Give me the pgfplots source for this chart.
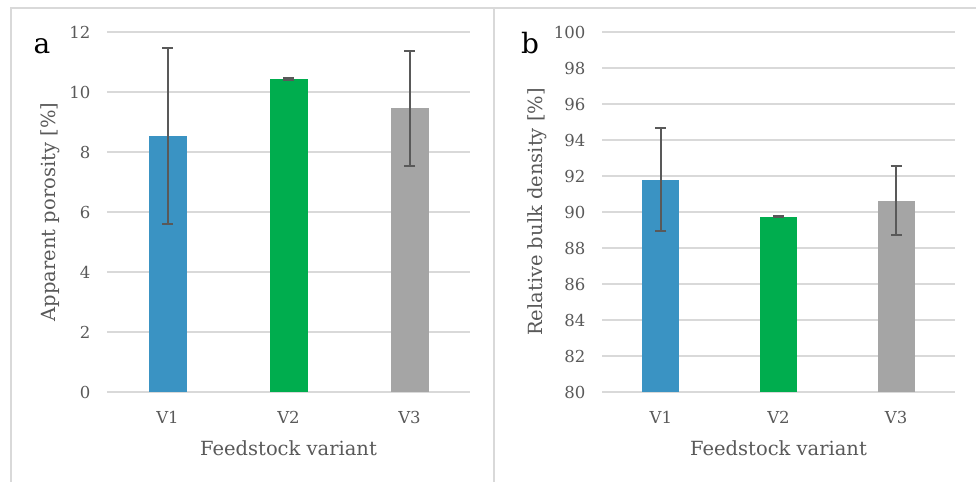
\documentclass[border=0pt]{standalone}
\usepackage{pgfplots}
\pgfplotsset{compat=1.18}
\usepackage{fontspec}
\setmainfont{DejaVu Serif}
\definecolor{cblue}{HTML}{3A93C3}
\definecolor{cgreen}{HTML}{00AD4E}
\definecolor{cgrey}{HTML}{A5A5A5}
\definecolor{txt}{HTML}{595959}
\definecolor{gridc}{HTML}{D9D9D9}
\pgfplotsset{mystyle/.style={
  scale only axis, height=360pt,
  xmin=-0.5, xmax=2.5, xtick={0,1,2}, xticklabels={V1,V2,V3},
  axis line style={draw=none}, major tick length=0pt,
  ymajorgrids, grid style={gridc, line width=1.3pt},
  tick label style={font=\fontsize{16.5}{19}\selectfont, text=txt},
  label style={font=\fontsize{19.5}{22}\selectfont, text=txt},
  /pgf/number format/assume math mode=true,
  yticklabel style={xshift=-13pt},
  xticklabel style={yshift=-16pt},
  xlabel={Feedstock variant},
  xlabel style={at={(axis description cs:0.5,-0.1556)}, anchor=center},
  ybar, bar shift=0pt,
},
eb/.style={
  error bars/.cd, y dir=both, y explicit,
  error bar style={line width=2pt, draw=txt},
  error mark options={rotate=90, mark size=5.5pt, line width=2pt, draw=txt},
}}
\begin{document}
\begin{tikzpicture}[x=1pt,y=1pt]
\useasboundingbox (0,0) rectangle (976,482);
\draw[gridc, line width=1.5pt] (10,474) -- (976,474);
\draw[gridc, line width=1.5pt] (11,474) -- (11,0);
\draw[gridc, line width=1.5pt] (494,474) -- (494,0);
\begin{axis}[mystyle, at={(107pt,90pt)}, anchor=south west, width=363pt,
  ymin=0, ymax=12, ytick={0,2,...,12}, bar width=38pt,
  ylabel={Apparent porosity [\%]},
  ylabel style={at={(axis description cs:-0.157,0.5)}, anchor=center}]
\addplot[fill=cblue, draw=none, eb] coordinates {(0,8.53) +- (0,2.94)};
\addplot[fill=cgreen, draw=none, eb] coordinates {(1,10.43) +- (0,0.03)};
\addplot[fill=cgrey, draw=none, eb] coordinates {(2,9.45) +- (0,1.92)};
\end{axis}
\begin{axis}[mystyle, at={(602pt,90pt)}, anchor=south west, width=353pt,
  ymin=80, ymax=100, ytick={80,82,...,100}, bar width=37pt,
  ylabel={Relative bulk density [\%]},
  ylabel style={at={(axis description cs:-0.184,0.5)}, anchor=center}]
\addplot[fill=cblue, draw=none, eb] coordinates {(0,91.8) +- (0,2.87)};
\addplot[fill=cgreen, draw=none, eb] coordinates {(1,89.73) +- (0,0.03)};
\addplot[fill=cgrey, draw=none, eb] coordinates {(2,90.63) +- (0,1.92)};
\end{axis}
\node[font=\fontsize{28}{30}\selectfont] at (42,436) {a};
\node[font=\fontsize{28}{30}\selectfont] at (530,439) {b};
\end{tikzpicture}
\end{document}
